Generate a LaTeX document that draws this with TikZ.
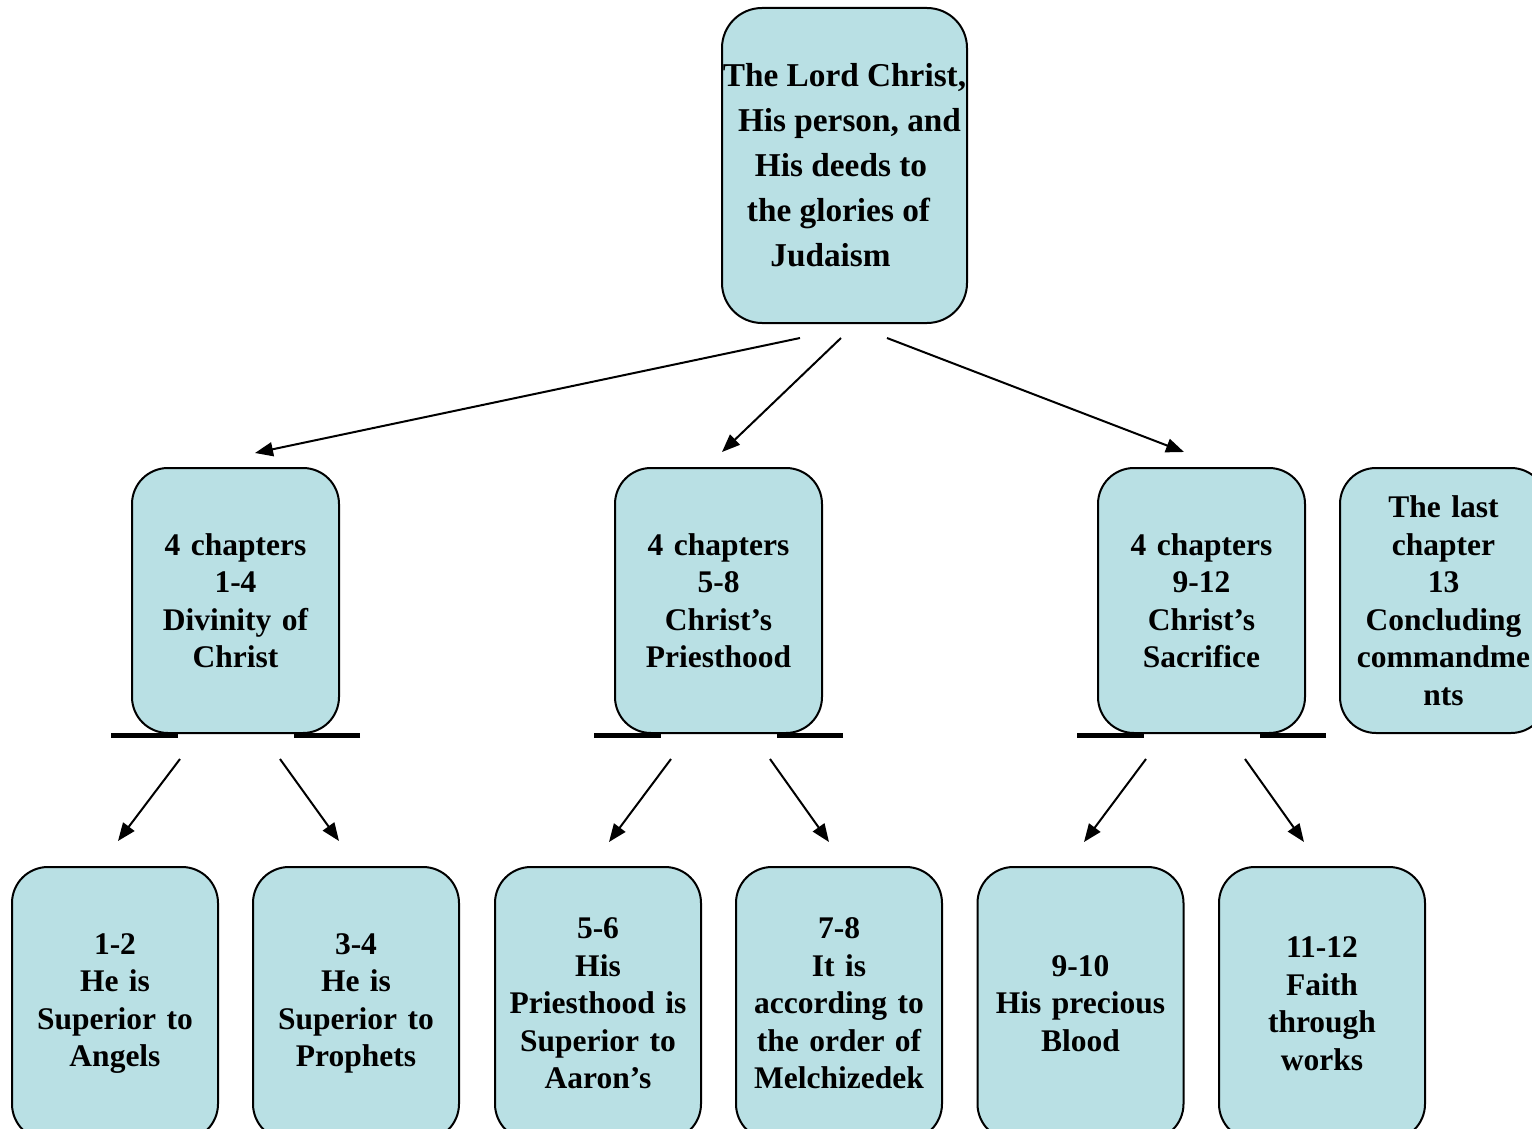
\documentclass[tikz,border=0pt]{standalone}
\usepackage{fontspec}
\setmainfont{Liberation Serif}
\usetikzlibrary{calc,arrows.meta}
\definecolor{boxfill}{RGB}{185,224,228}
\tikzset{
  card/.style={draw=black, line width=2pt, fill=boxfill, rounded corners=36pt,
    rectangle, inner sep=0pt, align=center, font=\bfseries\fontsize{31.5}{37.5}\selectfont},
  midcard/.style={card, minimum width=207pt, minimum height=265pt, text width=200pt},
  lowcard/.style={card, minimum width=206pt, minimum height=273pt, text width=200pt},
  bar/.style={line width=5pt},
  link/.style={line width=2pt, -{Triangle[length=18pt,width=14pt]}}
}
\begin{document}
\begin{tikzpicture}[x=1pt,y=-1pt]
\clip (0,0) rectangle (1532,1129);
\fill[white] (0,0) rectangle (1532,1129);
% top
\node[card, minimum width=245pt, minimum height=315pt, rounded corners=40pt,
  font=\bfseries\fontsize{33.3}{45}\selectfont] (top) at (844.5,165.5)
  {The Lord Christ,\\ \rule{10pt}{0pt}His person, and\\ His deeds to\rule{7pt}{0pt}\\ the glories of\rule{12pt}{0pt}\\ Judaism\rule{28pt}{0pt}};
% middle
\node[midcard] (m1) at (235.5,600.5) {4 chapters\\ 1-4\\ Divinity of\\ Christ};
\node[midcard] (m2) at (718.5,600.5) {4 chapters\\ 5-8\\ Christ’s\\ Priesthood};
\node[midcard] (m3) at (1201.5,600.5) {4 chapters\\ 9-12\\ Christ’s\\ Sacrifice};
\node[midcard] (m4) at (1443.5,600.5) {The last\\ chapter\\ 13\\ Concluding\\ commandme\\ nts};
% bottom
\node[lowcard] (b1) at (115,1003.5) {1-2\\ He is\\ Superior to\\ Angels};
\node[lowcard] (b2) at (356,1003.5) {3-4\\ He is\\ Superior to\\ Prophets};
\node[lowcard] (b3) at (598,1003.5) {5-6\\ His\\ Priesthood is\\ Superior to\\ Aaron’s};
\node[lowcard] (b4) at (839,1003.5) {7-8\\ It is\\ according to\\ the order of\\ Melchizedek};
\node[lowcard] (b5) at (1080.5,1003.5) {9-10\\ His precious\\ Blood};
\node[lowcard] (b6) at (1322,1003.5) {11-12\\ Faith\\ through\\ works};
% bars under the middle boxes
\foreach \m in {m1,m2,m3}{
  \draw[bar] ($(\m.south west)+(-20,1)$) -- ++(67,0);
  \draw[bar] ($(\m.south east)+(20,1)$) -- ++(-66,0);
}
% arrows from top
\draw[link] ($(top.south)+(-44.5,14)$) -- ($(m1.north)+(19.5,-14)$);
\draw[link] ($(top.south)+(-3.5,14)$) -- ($(m2.north)+(3.5,-15)$);
\draw[link] ($(top.south)+(42.5,14)$) -- ($(m3.north)+(-17.5,-15)$);
% arrows to bottom
\draw[link] ($(m1.south)+(-55.5,25)$) -- ($(b1.north)+(3,-25)$);
\draw[link] ($(m1.south)+(44.5,25)$) -- ($(b2.north)+(-17,-25)$);
\draw[link] ($(m2.south)+(-47.5,25)$) -- ($(b3.north)+(11,-24)$);
\draw[link] ($(m2.south)+(51.5,25)$) -- ($(b4.north)+(-10,-24)$);
\draw[link] ($(m3.south)+(-55.5,25)$) -- ($(b5.north)+(3.5,-24)$);
\draw[link] ($(m3.south)+(43.5,25)$) -- ($(b6.north)+(-18,-24)$);
\end{tikzpicture}
\end{document}
